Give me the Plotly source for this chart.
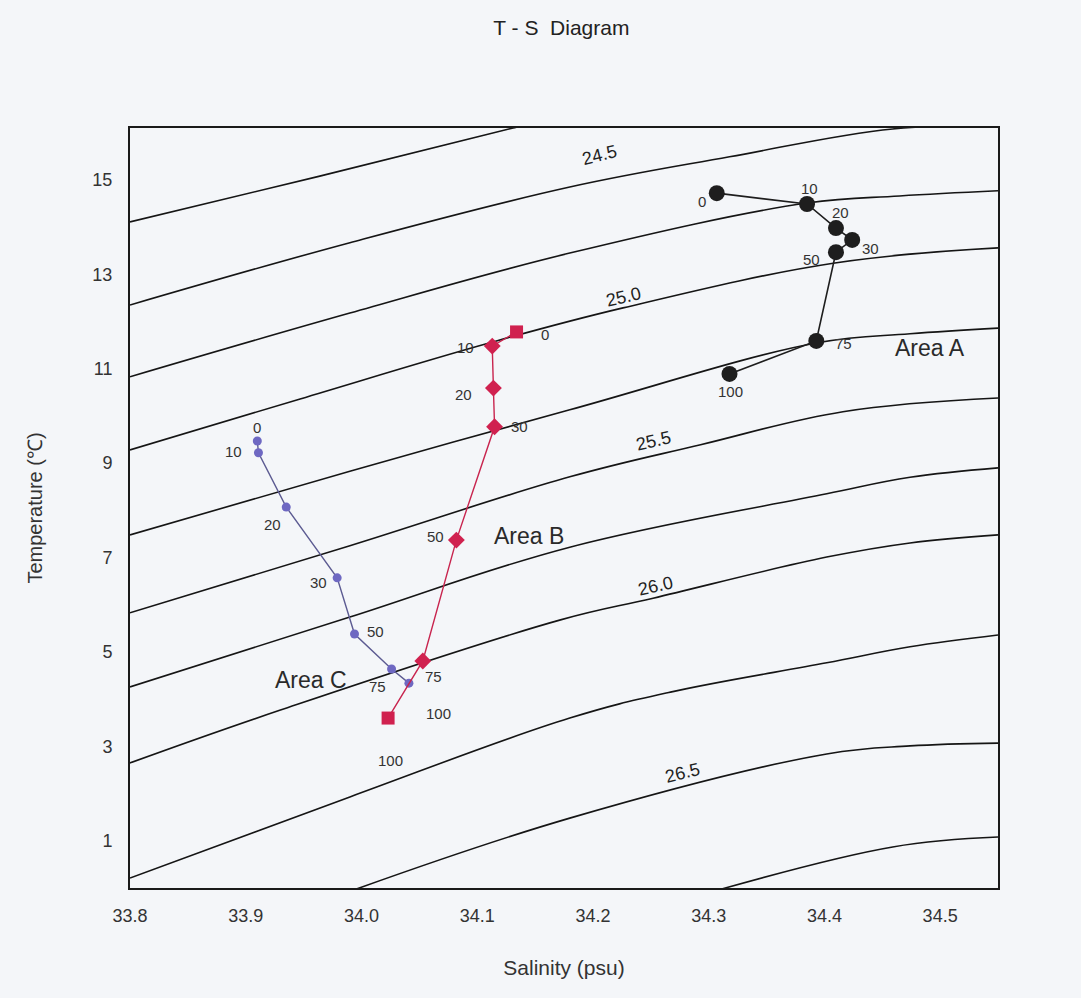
import plotly.graph_objects as go

# Sampling depths (m) for each station group
depth = [0, 10, 20, 30, 50, 75, 100]

# Area A profile
area_a_sal = [34.307, 34.385, 34.410, 34.424, 34.410, 34.393, 34.318]
area_a_temp = [14.72, 14.49, 13.98, 13.73, 13.47, 11.59, 10.89]

# Area B profile
area_b_sal = [34.134, 34.113, 34.114, 34.115, 34.082, 34.053, 34.023]
area_b_temp = [11.78, 11.48, 10.59, 9.77, 7.37, 4.81, 3.60]

# Area C profile
area_c_sal = [33.910, 33.911, 33.935, 33.979, 33.994, 34.026, 34.041]
area_c_temp = [9.47, 9.22, 8.07, 6.57, 5.38, 4.64, 4.34]

# Isopycnal (sigma-t) curves, salinity / temperature pairs
sig_2425_sal = [33.800, 33.964, 34.131, 34.210]
sig_2425_temp = [14.11, 15.08, 16.10, 16.55]
sig_2450_sal = [33.800, 33.990, 34.180, 34.318, 34.459, 34.550]
sig_2450_temp = [12.35, 13.67, 14.85, 15.49, 16.08, 16.14]
sig_2475_sal = [33.800, 33.990, 34.180, 34.385, 34.465, 34.550]
sig_2475_temp = [10.83, 12.18, 13.45, 14.51, 14.66, 14.77]
sig_2500_sal = [33.800, 33.947, 34.111, 34.226, 34.409, 34.550]
sig_2500_temp = [9.28, 10.36, 11.55, 12.29, 13.24, 13.56]
sig_2525_sal = [33.800, 33.990, 34.180, 34.394, 34.474, 34.550]
sig_2525_temp = [7.48, 8.83, 10.13, 11.55, 11.74, 11.86]
sig_2550_sal = [33.800, 33.990, 34.180, 34.293, 34.416, 34.550]
sig_2550_temp = [5.83, 7.25, 8.71, 9.39, 10.09, 10.38]
sig_2575_sal = [33.800, 33.990, 34.180, 34.402, 34.474, 34.550]
sig_2575_temp = [4.26, 5.74, 7.22, 8.35, 8.70, 8.90]
sig_2600_sal = [33.800, 33.930, 34.172, 34.252, 34.402, 34.474, 34.550]
sig_2600_temp = [2.65, 3.77, 5.68, 6.14, 7.01, 7.31, 7.48]
sig_2625_sal = [33.800, 33.990, 34.180, 34.267, 34.402, 34.474, 34.550]
sig_2625_temp = [0.21, 1.93, 3.60, 4.15, 4.77, 5.11, 5.36]
sig_2650_sal = [33.981, 34.180, 34.402, 34.474, 34.550]
sig_2650_temp = [-0.15, 1.48, 2.84, 3.01, 3.07]
sig_2675_sal = [34.300, 34.459, 34.550]
sig_2675_temp = [-0.10, 0.87, 1.08]

isopycnals = [
    (sig_2425_sal, sig_2425_temp),
    (sig_2450_sal, sig_2450_temp),
    (sig_2475_sal, sig_2475_temp),
    (sig_2500_sal, sig_2500_temp),
    (sig_2525_sal, sig_2525_temp),
    (sig_2550_sal, sig_2550_temp),
    (sig_2575_sal, sig_2575_temp),
    (sig_2600_sal, sig_2600_temp),
    (sig_2625_sal, sig_2625_temp),
    (sig_2650_sal, sig_2650_temp),
    (sig_2675_sal, sig_2675_temp),
]

# Labelled isopycnal levels
sigma_labels = ["24.5", "25.0", "25.5", "26.0", "26.5"]

# Axis tick values
sal_ticks = [33.8, 33.9, 34.0, 34.1, 34.2, 34.3, 34.4, 34.5]
temp_ticks = [1, 3, 5, 7, 9, 11, 13, 15]

BG = "#f4f6f9"
NARROW = "Liberation Sans Narrow, Arial Narrow, Liberation Sans, Arial, sans-serif"
SANS = "Liberation Sans, Arial, sans-serif"

fig = go.Figure()

for s, t in isopycnals:
    fig.add_trace(go.Scatter(
        x=s, y=t, mode="lines",
        line=dict(color="#151515", width=1.6, shape="spline", smoothing=1.1),
        hoverinfo="skip", showlegend=False,
    ))

# Station profiles
fig.add_trace(go.Scatter(
    x=area_c_sal, y=area_c_temp, mode="lines+markers",
    line=dict(color="#5c5b92", width=1.4),
    marker=dict(color="#6e68c2", size=9, symbol="circle"),
    showlegend=False, name="Area C",
))
fig.add_trace(go.Scatter(
    x=area_b_sal, y=area_b_temp, mode="lines+markers",
    line=dict(color="#c8244e", width=1.4),
    marker=dict(color="#d0214f", size=13,
                symbol=["square", "diamond", "diamond", "diamond",
                        "diamond", "diamond", "square"]),
    showlegend=False, name="Area B",
))
fig.add_trace(go.Scatter(
    x=area_a_sal, y=area_a_temp, mode="lines+markers",
    line=dict(color="#1e1e1e", width=1.6),
    marker=dict(color="#1e1e1e", size=16, symbol="circle"),
    showlegend=False, name="Area A",
))

annotations = []

# Depth labels beside each sample, offsets in pixels
label_offsets = {
    "A": [(-15, -8), (2, 16), (5, 16), (18, -9), (-24, -7), (27, -3), (1, -18)],
    "B": [(28, -3), (-27, -1), (-30, -6), (25, 0), (-21, 4), (11, -16), (2, -42)],
    "C": [(0, 13), (-25, 1), (-14, -17), (-19, -5), (21, 3), (-14, -18), (30, -30)],
}
profiles = {
    "A": (area_a_sal, area_a_temp),
    "B": (area_b_sal, area_b_temp),
    "C": (area_c_sal, area_c_temp),
}
for key, (sal, temp) in profiles.items():
    for d, s, t, (dx, dy) in zip(depth, sal, temp, label_offsets[key]):
        annotations.append(dict(
            x=s, y=t, xref="x", yref="y", text=str(d), showarrow=False,
            xshift=dx, yshift=dy,
            font=dict(family=SANS, size=15, color="#333333"),
        ))

# Area names
for txt, s, t in [("Area A", 34.491, 11.44), ("Area B", 34.145, 7.46),
                  ("Area C", 33.956, 4.41)]:
    annotations.append(dict(
        x=s, y=t, xref="x", yref="y", text=txt, showarrow=False,
        font=dict(family=SANS, size=23, color="#2a2a2a"),
    ))

# Isopycnal level labels, tilted along their curves
for txt, s, t, ang in zip(sigma_labels,
                          [34.206, 34.226, 34.252, 34.254, 34.277],
                          [15.53, 12.52, 9.47, 6.40, 2.44],
                          [-14, -13, -13, -13, -14]):
    annotations.append(dict(
        x=s, y=t, xref="x", yref="y", text=txt, showarrow=False,
        textangle=ang,
        font=dict(family=SANS, size=18, color="#222222"),
    ))

fig.update_layout(
    width=1081, height=998,
    margin=dict(l=130, r=83, t=128, b=110),
    paper_bgcolor=BG, plot_bgcolor=BG,
    title=dict(text="T - S\u00a0\u00a0Diagram", x=0.497, xref="paper",
               y=1 - 28 / 998, yref="container", yanchor="middle",
               xanchor="center",
               font=dict(family=NARROW, size=21, color="#222222")),
    annotations=annotations,
    xaxis=dict(
        range=[33.8, 34.55], tickvals=sal_ticks,
        ticktext=[f"{v:.1f}" for v in sal_ticks],
        showgrid=False, zeroline=False, showline=True, mirror=True,
        linecolor="#1a1a1a", linewidth=2, ticks="",
        ticklabelstandoff=10,
        tickfont=dict(family=NARROW, size=18, color="#333333"),
        title=dict(text="Salinity (psu)", standoff=36,
                   font=dict(family=NARROW, size=21, color="#333333")),
    ),
    yaxis=dict(
        range=[0, 16.1], tickvals=temp_ticks,
        ticktext=[str(v) for v in temp_ticks],
        showgrid=False, zeroline=False, showline=True, mirror=True,
        linecolor="#1a1a1a", linewidth=2, ticks="",
        ticklabelstandoff=12,
        tickfont=dict(family=SANS, size=18, color="#333333"),
        title=dict(text="Temperature (\u2103)", standoff=44,
                   font=dict(family=SANS, size=20, color="#333333")),
    ),
)

fig.write_html("out.html")
